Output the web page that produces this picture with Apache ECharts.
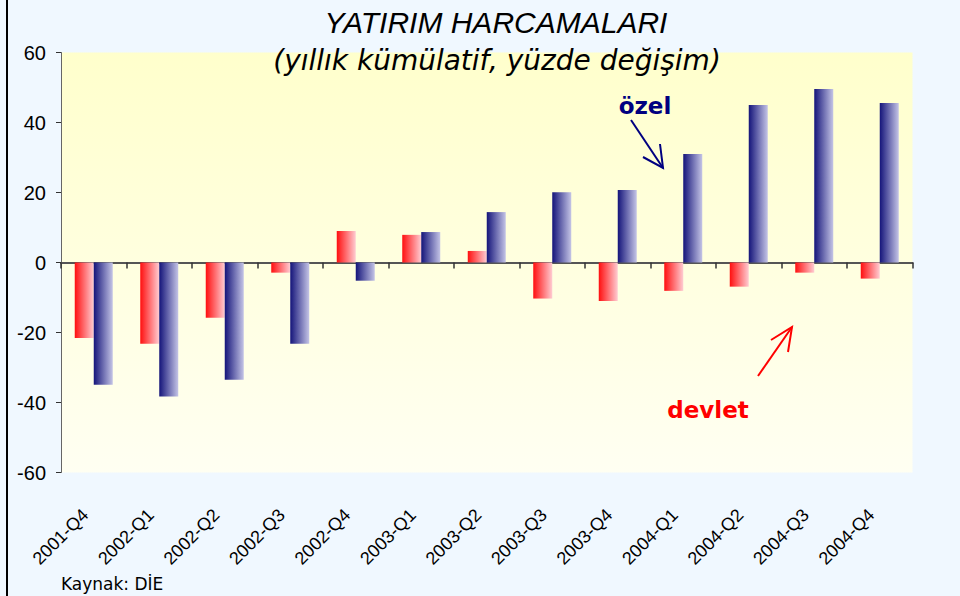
<!DOCTYPE html>
<html>
<head>
<meta charset="utf-8">
<script src="https://cdn.jsdelivr.net/npm/echarts@6/dist/echarts.min.js"></script>
<style>html,body{margin:0;padding:0;background:#F0F8FF;}#c{width:960px;height:596px;}</style>
</head>
<body>
<div id="c"></div>
<script>
const categories = ['2001-Q4','2002-Q1','2002-Q2','2002-Q3','2002-Q4','2003-Q1','2003-Q2','2003-Q3','2003-Q4','2004-Q1','2004-Q2','2004-Q3','2004-Q4'];
const devlet = [-21.6,-23.2,-15.8,-2.9,9.0,7.9,3.3,-10.3,-11.0,-8.1,-6.9,-2.9,-4.6];
const ozel = [-34.9,-38.3,-33.5,-23.2,-5.2,8.7,14.4,20.1,20.7,31.0,45.0,49.6,45.6];
const yMin = -60, yMax = 60, yStep = 20;

const chart = echarts.init(document.getElementById('c'), null, {renderer: 'svg'});
const grad = (a, b) => new echarts.graphic.LinearGradient(0, 0, 1, 0, [{offset: 0, color: a}, {offset: 1, color: b}]);

chart.setOption({
  backgroundColor: '#F0F8FF',
  animation: false,
  grid: {
    left: 61, right: 47.5, top: 52.5, bottom: 123.5,
    show: true, borderWidth: 0,
    backgroundColor: new echarts.graphic.LinearGradient(0, 0, 0, 1, [
      {offset: 0, color: '#FFFFCC'}, {offset: 1, color: '#FFFFF2'}
    ])
  },
  xAxis: [
    {
      type: 'category', data: categories, position: 'bottom',
      axisLine: {show: false, onZero: false}, axisTick: {show: false},
      axisLabel: {rotate: 45, margin: 31, fontSize: 18, color: '#000', fontFamily: 'Liberation Sans', padding: [0, 12, 0, 0]},
      splitLine: {show: false}
    },
    {
      type: 'category', data: categories, position: 'top',
      axisLine: {show: true, onZero: true, lineStyle: {color: '#555', width: 2}},
      axisTick: {show: true, inside: true, length: 6, lineStyle: {color: '#333', width: 1.5}},
      axisLabel: {show: false}, splitLine: {show: false}
    }
  ],
  yAxis: {
    type: 'value', min: yMin, max: yMax, interval: yStep,
    axisLine: {show: true, lineStyle: {color: '#666', width: 1}},
    axisTick: {show: true, length: 5, lineStyle: {color: '#333'}},
    axisLabel: {margin: 15, fontSize: 20, color: '#000', fontFamily: 'Liberation Sans'},
    splitLine: {show: false}
  },
  series: [
    {
      name: 'devlet', type: 'bar', xAxisIndex: 0, data: devlet,
      barWidth: 19, barGap: '0%',
      itemStyle: {color: grad('#FF0F0F', '#FFCCD2')}
    },
    {
      name: 'özel', type: 'bar', xAxisIndex: 0, data: ozel,
      barWidth: 19, barGap: '0%',
      itemStyle: {color: grad('#14147A', '#C4C4E6')}
    }
  ],
  graphic: [
    {type: 'line', shape: {x1: 7, y1: 0, x2: 7, y2: 596}, style: {stroke: '#000', lineWidth: 2}, z: 10},
    {type: 'text', x: 496, y: 22, z: 10, style: {text: 'YATIRIM HARCAMALARI', fontFamily: 'Liberation Sans', fontStyle: 'italic', fontSize: 30, fill: '#000', textAlign: 'center', textVerticalAlign: 'middle'}},
    {type: 'text', x: 497, y: 60, z: 10, style: {text: '(yıllık kümülatif, yüzde değişim)', fontFamily: 'DejaVu Sans', fontStyle: 'italic', fontSize: 28, fill: '#000', textAlign: 'center', textVerticalAlign: 'middle'}},
    {type: 'text', x: 61, y: 584, z: 10, style: {text: 'Kaynak: DİE', fontFamily: 'DejaVu Sans', fontSize: 17, fill: '#000', textAlign: 'left', textVerticalAlign: 'middle'}},
    {type: 'text', x: 645, y: 106, z: 10, style: {text: 'özel', fontFamily: 'DejaVu Sans', fontWeight: 'bold', fontSize: 23, fill: '#000080', textAlign: 'center', textVerticalAlign: 'middle'}},
    {type: 'text', x: 708, y: 410, z: 10, style: {text: 'devlet', fontFamily: 'DejaVu Sans', fontWeight: 'bold', fontSize: 23, fill: '#FF0000', textAlign: 'center', textVerticalAlign: 'middle'}},
    {type: 'line', z: 10, shape: {x1: 631, y1: 120, x2: 663, y2: 168}, style: {stroke: '#000080', lineWidth: 2}},
    {type: 'polyline', z: 10, shape: {points: [[643, 157], [663, 168], [660, 144]]}, style: {stroke: '#000080', lineWidth: 2, fill: null}},
    {type: 'line', z: 10, shape: {x1: 758, y1: 376, x2: 792, y2: 327}, style: {stroke: '#FF0000', lineWidth: 2}},
    {type: 'polyline', z: 10, shape: {points: [[771, 340], [792, 327], [788, 352]]}, style: {stroke: '#FF0000', lineWidth: 2, fill: null}}
  ]
});
</script>
</body>
</html>
